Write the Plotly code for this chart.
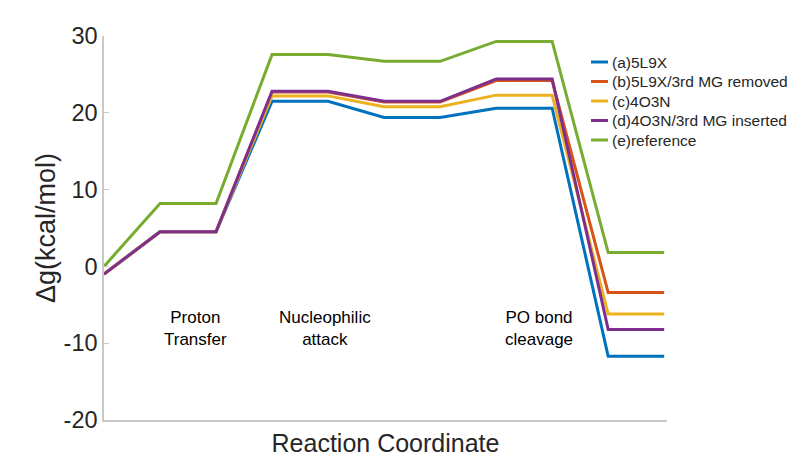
import plotly.graph_objects as go

steps = [0, 1, 2, 3, 4, 5, 6, 7, 8, 9, 10]
series_names = ["(a)5L9X", "(b)5L9X/3rd MG removed", "(c)4O3N",
                "(d)4O3N/3rd MG inserted", "(e)reference"]
a_5l9x = [-1, 4.5, 4.5, 21.5, 21.5, 19.4, 19.4, 20.6, 20.6, -11.7, -11.7]
b_5l9x_removed = [-1, 4.5, 4.5, 22.7, 22.7, 21.4, 21.4, 24.2, 24.2, -3.4, -3.4]
c_4o3n = [-1, 4.5, 4.5, 22.2, 22.2, 20.8, 20.8, 22.3, 22.3, -6.2, -6.2]
d_4o3n_inserted = [-1, 4.5, 4.5, 22.8, 22.8, 21.5, 21.5, 24.4, 24.4, -8.2, -8.2]
e_reference = [0, 8.2, 8.2, 27.6, 27.6, 26.7, 26.7, 29.3, 29.3, 1.8, 1.8]
colors = ["#0072BD", "#D95319", "#EDB120", "#7E2F8E", "#77AC30"]

step_labels = ["Proton<br>Transfer", "Nucleophilic<br>attack", "PO bond<br>cleavage"]
step_x = [1.63, 3.95, 7.76]
step_y = [-8.1, -8.1, -8.1]

y_ticks = [-20, -10, 0, 10, 20, 30]
y_tick_text = ["-20", "-10", "0", "10", "20", "30"]

# the page body adds an 8px offset, so the figure is laid out 8px up/left
OFF = 8
W, H = 800, 473
L, R, T, B = 104 - OFF, W - (667 - OFF), 36 - OFF, H - (420 - OFF)
pw, ph = W - L - R, H - T - B

fig = go.Figure()
all_series = [a_5l9x, b_5l9x_removed, c_4o3n, d_4o3n_inserted, e_reference]
for name, vals, col in zip(series_names, all_series, colors):
    fig.add_trace(go.Scatter(x=steps, y=vals, mode="lines", name=name,
                             line=dict(color=col, width=3), showlegend=False))

for t, x, y in zip(step_labels, step_x, step_y):
    fig.add_annotation(x=x, y=y, xref="x", yref="y", text=t, showarrow=False,
                       xanchor="center", yanchor="middle", align="center",
                       font=dict(family="Liberation Sans, Arial, sans-serif",
                                 size=17, color="#000000"))

# legend drawn as line samples plus labels
leg_x0, leg_x1, leg_tx = 591 - OFF, 608 - OFF, 610 - OFF
leg_y0, leg_dy = 62 - OFF, 19.5
for i, (name, col) in enumerate(zip(series_names, colors)):
    yp = leg_y0 + i * leg_dy
    py = (H - B - yp) / ph
    fig.add_shape(type="line", xref="paper", yref="paper",
                  x0=(leg_x0 - L) / pw, x1=(leg_x1 - L) / pw, y0=py, y1=py,
                  line=dict(color=col, width=3))
    fig.add_annotation(x=(leg_tx - L) / pw, y=py, xref="paper", yref="paper",
                       text=name, showarrow=False, xanchor="left", yanchor="middle",
                       font=dict(family="Liberation Sans, Arial, sans-serif",
                                 size=15.5, color="#262626"))

font_main = "Liberation Sans, Arial, Helvetica, sans-serif"
fig.update_layout(
    width=W, height=H,
    margin=dict(l=L, r=R, t=T, b=B, autoexpand=False),
    paper_bgcolor="white", plot_bgcolor="white",
    font=dict(family=font_main, color="#262626"),
    showlegend=False,
    xaxis=dict(range=[0, 10.05], showticklabels=False, ticks="", showgrid=False,
               zeroline=False, showline=True, linecolor="#c8c8c8", linewidth=1.5,
               automargin=False,
               title=dict(text="Reaction Coordinate", font=dict(size=25, color="#262626"),
                          standoff=14)),
    yaxis=dict(range=[-20, 30], tickvals=y_ticks, ticktext=y_tick_text,
               ticks="inside", ticklen=5,
               tickcolor="#c8c8c8", showgrid=False, zeroline=False, showline=True,
               linecolor="#c8c8c8", linewidth=1.5, automargin=False,
               tickfont=dict(size=23.5, color="#262626"),
               title=dict(text="Δg(kcal/mol)", font=dict(size=27, color="#262626"),
                          standoff=0)),
)

fig.write_html("out.html")
